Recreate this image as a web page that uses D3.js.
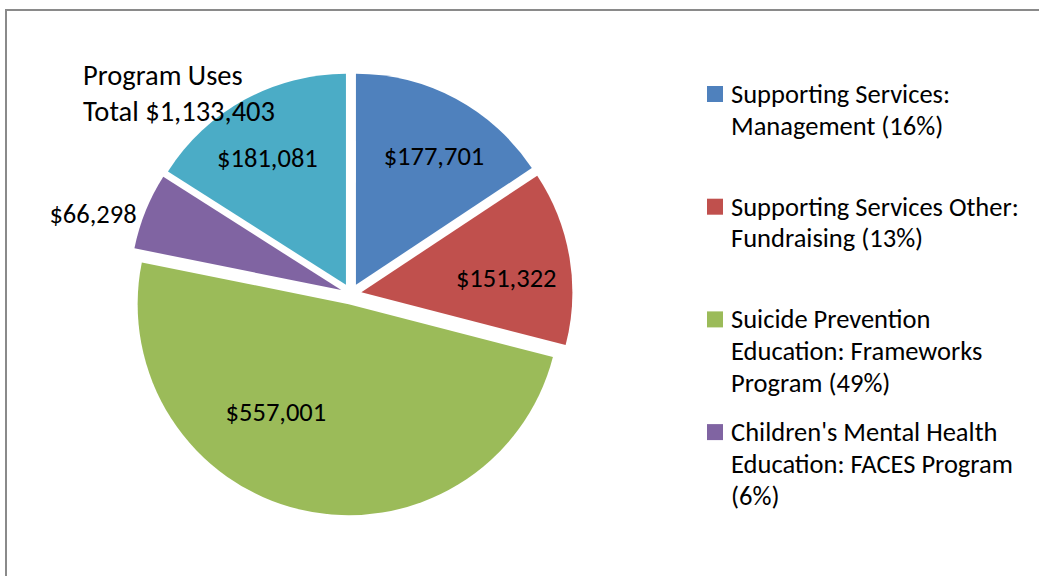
<!DOCTYPE html>
<html>
<head>
<meta charset="utf-8">
<script src="https://cdn.jsdelivr.net/npm/d3@7"></script>
<style>
  html, body { margin: 0; padding: 0; background: #fff; }
  text { font-family: Carlito, Calibri, Lato, sans-serif; fill: #000; }
</style>
</head>
<body>
<svg id="chart"></svg>
<script>
const width = 1039;
const height = 576;

// slice data, in drawing order (clockwise from 12 o'clock)
const sliceNames = [
    "Supporting Services: Management",
    "Supporting Services Other: Fundraising",
    "Suicide Prevention Education: Frameworks Program",
    "Children's Mental Health Education: FACES Program",
    "Program Services"
];
const sliceValues = [177701, 151322, 557001, 66298, 181081];
const sliceColors = ["#4F81BD", "#C0504D", "#9BBB59", "#8064A2", "#4BACC6"];

// legend text (only the first four entries fit in the frame)
const legendLines = [
    ["Supporting Services:", "Management (16%)"],
    ["Supporting Services Other:", "Fundraising (13%)"],
    ["Suicide Prevention", "Education: Frameworks", "Program (49%)"],
    ["Children's Mental Health", "Education: FACES Program", "(6%)"]
];
const titleLines = ["Program Uses", "Total $1,133,403"];

const cx = 351;
const cy = 294;
const radius = 211;
const explode = 10.5;

// where the value labels sit: angle shift (deg) from the slice middle and distance as a share of radius
const labelPlacement = [
    { shift: 3, k: 0.713 },
    { shift: 3.7, k: 0.69 },
    { shift: 21, k: 0.617 },
    { shift: -5, k: 1.23 },
    { shift: -3, k: 0.707 }
];

const svg = d3.select("#chart")
    .attr("width", width)
    .attr("height", height);

// chart frame
svg.append("rect")
    .attr("x", 6)
    .attr("y", 10)
    .attr("width", width + 20)
    .attr("height", height + 20)
    .attr("fill", "none")
    .attr("stroke", "#8a8a8a")
    .attr("stroke-width", 2);

const pie = d3.pie().sort(null).value(d => d)
    .startAngle(0).endAngle(2 * Math.PI);
const arcs = pie(sliceValues);
const arc = d3.arc().innerRadius(0).outerRadius(radius);

const polar = (angle, dist) => [dist * Math.sin(angle), -dist * Math.cos(angle)];

const pieGroup = svg.append("g")
    .attr("transform", `translate(${cx}, ${cy})`);

const slices = pieGroup.selectAll("g.slice")
    .data(arcs)
    .enter()
    .append("g")
    .attr("class", "slice")
    .attr("transform", d => {
        const [ox, oy] = polar((d.startAngle + d.endAngle) / 2, explode);
        return `translate(${ox}, ${oy})`;
    });

slices.append("path")
    .attr("d", arc)
    .attr("fill", (d, i) => sliceColors[i]);

const fmt = d3.format("$,");
slices.append("text")
    .attr("transform", (d, i) => {
        const p = labelPlacement[i];
        const a = (d.startAngle + d.endAngle) / 2 + p.shift * Math.PI / 180;
        const [x, y] = polar(a, p.k * radius);
        return `translate(${x}, ${y})`;
    })
    .attr("text-anchor", "middle")
    .attr("dy", "0.34em")
    .attr("font-size", 26.5)
    .text(d => fmt(d.data));

// title
svg.append("text")
    .attr("x", 83)
    .attr("y", 85)
    .attr("font-size", 28.5)
    .selectAll("tspan")
    .data(titleLines)
    .enter()
    .append("tspan")
    .attr("x", 83)
    .attr("dy", (d, i) => i === 0 ? 0 : 35.5)
    .text(d => d);

// legend
const legendItemGap = 112.7;
const legendLineGap = 31.8;
const legend = svg.append("g")
    .attr("transform", "translate(707, 86)");

const items = legend.selectAll("g")
    .data(legendLines)
    .enter()
    .append("g")
    .attr("transform", (d, i) => `translate(0, ${i * legendItemGap})`);

items.append("rect")
    .attr("width", 16)
    .attr("height", 16)
    .attr("fill", (d, i) => sliceColors[i]);

items.append("text")
    .attr("font-size", 26.5)
    .selectAll("tspan")
    .data(d => d)
    .enter()
    .append("tspan")
    .attr("x", 24)
    .attr("y", (d, i) => 17 + i * legendLineGap)
    .text(d => d);
</script>
</body>
</html>
